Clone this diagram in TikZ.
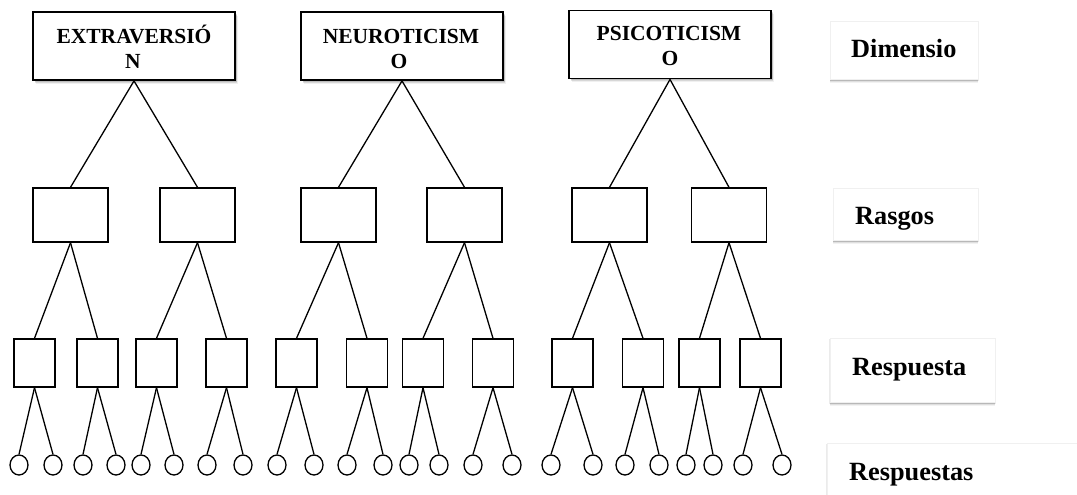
\documentclass[tikz,border=0pt]{standalone}
\usepackage{fontspec}
\setmainfont{Liberation Serif}
\usetikzlibrary{shadows,shapes.geometric}
\begin{document}
\begin{tikzpicture}[x=1pt,y=-1pt,
  softshadow/.style={
    drop shadow={shadow xshift=1pt, shadow yshift=-1pt, opacity=0.12, fill=black},
    drop shadow={shadow xshift=1.5pt, shadow yshift=-2pt, opacity=0.12, fill=black},
    drop shadow={shadow xshift=2pt, shadow yshift=-3pt, opacity=0.1, fill=black},
    drop shadow={shadow xshift=2.5pt, shadow yshift=-4pt, opacity=0.06, fill=black}},
  lblshadow/.style={
    drop shadow={shadow xshift=0pt, shadow yshift=-1pt, shadow scale=1.01, opacity=0.08, fill=black},
    drop shadow={shadow xshift=0pt, shadow yshift=-2pt, opacity=0.1, fill=black},
    drop shadow={shadow xshift=0pt, shadow yshift=-3pt, opacity=0.08, fill=black},
    drop shadow={shadow xshift=0pt, shadow yshift=-4pt, opacity=0.05, fill=black}},
  dimbox/.style={draw, line width=1.8pt, fill=white, inner sep=0pt, softshadow,
    minimum width=202pt, minimum height=68pt},
  boxtext/.style={anchor=base, inner sep=0pt, font=\bfseries\fontsize{21.5}{25}\selectfont},
  rasbox/.style={draw, line width=1.4pt, fill=white, inner sep=0pt, minimum width=75pt, minimum height=54pt},
  resbox/.style={draw, line width=1.4pt, fill=white, inner sep=0pt, minimum width=41pt, minimum height=48pt},
  leaf/.style={draw, ellipse, line width=1.3pt, fill=white, inner sep=0pt, minimum width=18pt, minimum height=20pt},
  conn/.style={line width=1.3pt},
  lblbox/.style={fill=white, draw=black!6, line width=0.6pt, inner sep=0pt, anchor=north west, lblshadow},
  lbltext/.style={anchor=base west, inner sep=0pt, font=\bfseries\fontsize{26.3}{30}\selectfont}
]
\clip (0,0) rectangle (1077,495);
\fill[white] (0,0) rectangle (1077,495);

% top dimension boxes
\node[dimbox] (ext) at (134,46) {};
\node[dimbox] (neu) at (402,46) {};
\node[dimbox] (psi) at (670,44.5) {};
\node[boxtext] (ext-a) at (134,43.3) {EXTRAVERSIÓ};
\node[boxtext] (ext-b) at (133,68.3) {N};
\node[boxtext] (neu-a) at (401,43.3) {NEUROTICISM};
\node[boxtext] (neu-b) at (399,68.3) {O};
\node[boxtext] (psi-a) at (669,40.7) {PSICOTICISM};
\node[boxtext] (psi-b) at (670,65.5) {O};

% rasgos boxes
\foreach \n/\x in {1/70.5, 2/197.5, 3/338.5, 4/464.5, 5/609.5, 6/729}
  \node[rasbox] (r\n) at (\x,215) {};

% respuesta boxes
\foreach \n/\x in {1/34.5, 2/97.5, 3/156.5, 4/226.5, 5/296.5, 6/367,
                   7/423, 8/493, 9/572.5, 10/643, 11/699.5, 12/760.5}
  \node[resbox] (q\n) at (\x,363) {};

% leaves
\foreach \n/\x in {1/19, 2/53, 3/83, 4/116, 5/141, 6/174, 7/207, 8/243,
                   9/277, 10/314, 11/347, 12/383, 13/409, 14/439, 15/473, 16/512,
                   17/551, 18/593, 19/625, 20/659, 21/686, 22/713, 23/743, 24/782}
  \node[leaf] (c\n) at (\x,465) {};

% connectors: dimensions to rasgos
\draw[conn] (ext.south) -- (r1.north);
\draw[conn] (ext.south) -- (r2.north);
\draw[conn] (neu.south) -- (r3.north);
\draw[conn] (neu.south) -- (r4.north);
\draw[conn] (psi.south) -- (r5.north);
\draw[conn] (psi.south) -- (r6.north);

% rasgos to respuesta
\foreach \i in {1,...,6} {
  \pgfmathtruncatemacro\a{2*\i-1}
  \pgfmathtruncatemacro\b{2*\i}
  \draw[conn] (r\i.south) -- (q\a.north);
  \draw[conn] (r\i.south) -- (q\b.north);
}

% respuesta to leaves
\foreach \i in {1,...,12} {
  \pgfmathtruncatemacro\a{2*\i-1}
  \pgfmathtruncatemacro\b{2*\i}
  \draw[conn] (q\i.south) -- (c\a.north);
  \draw[conn] (q\i.south) -- (c\b.north);
}

% level labels
\node[lblbox, minimum width=148pt, minimum height=58pt] (ldim) at (830,21) {};
\node[lbltext] (ldim-t) at (851,58) {Dimensio};
\node[lblbox, minimum width=145pt, minimum height=52pt] (lras) at (833,188) {};
\node[lbltext] (lras-t) at (855,224) {Rasgos};
\node[lblbox, minimum width=165pt, minimum height=64pt] (lres) at (830,338) {};
\node[lbltext] (lres-t) at (852,375) {Respuesta};
\node[lblbox, minimum width=270pt, minimum height=70pt] (lress) at (827,443) {};
\node[lbltext] (lress-t) at (849,480) {Respuestas};
\end{tikzpicture}
\end{document}
